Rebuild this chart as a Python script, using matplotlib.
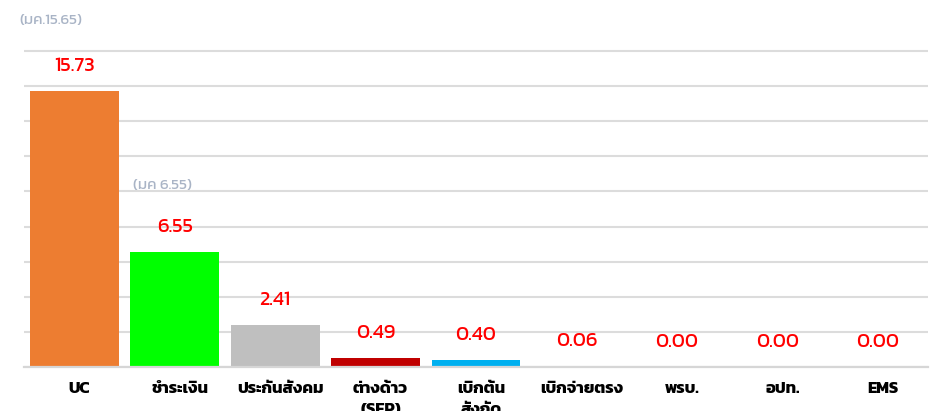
import numpy as np
import matplotlib
matplotlib.use('Agg')
import matplotlib.pyplot as plt
from matplotlib import font_manager
from matplotlib.ft2font import FT2Font

# data
cats = ['UC', 'ชำระเงิน', 'ประกันสังคม', 'ต่างด้าว\n(SEP)', 'เบิกต้น\nสังกัด',
        'เบิกจ่ายตรง', 'พรบ.', 'อปท.', 'EMS']
vals = [15.73, 6.55, 2.41, 0.49, 0.40, 0.06, 0.00, 0.00, 0.00]
colors = ['#ED7D31', '#00FF00', '#BFBFBF', '#C00000', '#00B0F0',
          '#D6DCE4', '#D6DCE4', '#D6DCE4', '#D6DCE4']
prev_idx = [0, 1]
prev_txt = ['(มค.15.65)', '(มค 6.55)']
prev_vals = [15.65, 6.55]

# find a font that has Thai glyphs
thai = None
pref = ['Kanit', 'Prompt', 'Noto Sans Thai', 'Noto Sans Thai Looped', 'Sarabun',
        'Loma', 'Garuda', 'Norasi', 'Tlwg Typo', 'Waree', 'Umpush', 'Kinnari']
found = []
for f in font_manager.fontManager.ttflist:
    try:
        ft = FT2Font(f.fname)
        if ft.get_char_index(ord('ก')):
            found.append(f.name)
    except Exception:
        pass
for p in pref:
    if p in found:
        thai = p
        break
if thai is None and found:
    thai = found[0]
fams = ([thai] if thai else []) + ['DejaVu Sans']
plt.rcParams['font.family'] = fams

ytop = 18.1
fig = plt.figure(figsize=(9.35, 4.11), dpi=100)
ax = fig.add_axes([24/935, 44/411, 904/935, ytop*17.55/411])

x = np.arange(len(cats))
ax.bar(x, vals, width=0.885, color=colors, zorder=2)
ax.set_xlim(-0.5, len(cats) - 0.5)
ax.set_ylim(0, ytop)
ax.set_yticks(np.arange(0, 19, 2))
ax.yaxis.grid(True, color='#dcdcdc', linewidth=1.5, zorder=0)
ax.set_axisbelow(True)
ax.tick_params(axis='y', length=0, labelleft=False)
ax.tick_params(axis='x', length=0, pad=11)
for s in ['top', 'right', 'left']:
    ax.spines[s].set_visible(False)
ax.spines['bottom'].set_color('#d6d6d6')
ax.spines['bottom'].set_linewidth(1.6)
ax.set_xticks(x + 0.05)
ax.set_xticklabels(cats, fontsize=12, fontweight='bold', color='black',
                   va='top', linespacing=1.6)

for i, v in enumerate(vals):
    ax.annotate(f'{v:.2f}', (x[i], v), xytext=(0, 18), textcoords='offset points',
                ha='center', va='center', color='red', fontsize=14.5)

offs = [(-3, 52), (6, 48)]
for i, t, v, o in zip(prev_idx, prev_txt, prev_vals, offs):
    ax.annotate(t, (x[i] - 0.5, v), xytext=o, textcoords='offset points',
                ha='left', va='center', color='#a9b4c6', fontsize=11,
                annotation_clip=False)

fig.savefig('out.png', dpi=100)
